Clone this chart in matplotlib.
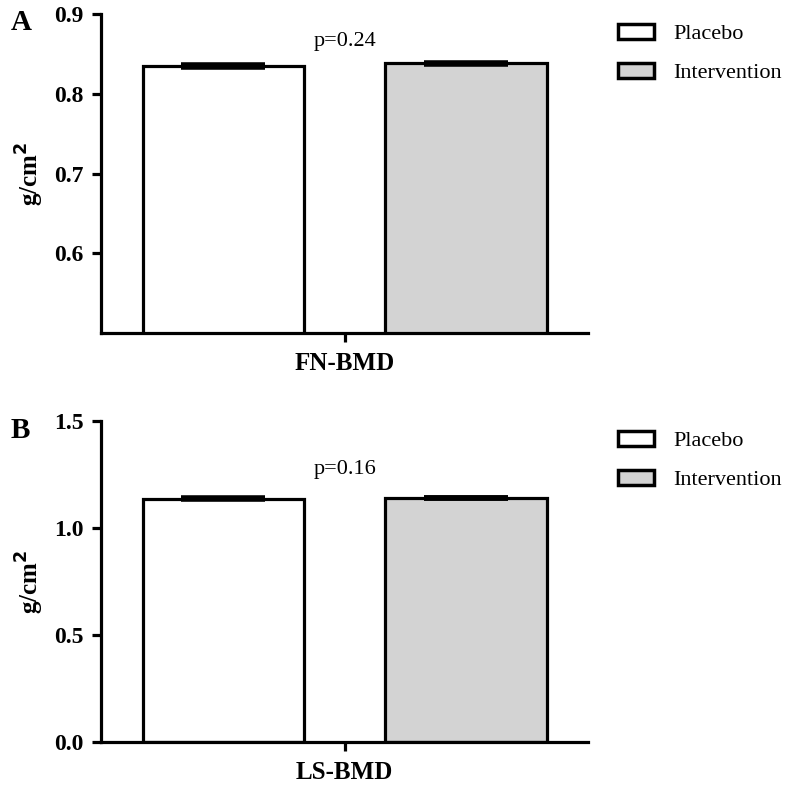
import matplotlib
matplotlib.use("Agg")
import matplotlib.pyplot as plt
from matplotlib.patches import Patch

plt.rcParams['font.family'] = ['Liberation Serif', 'DejaVu Serif']

groups = ["Placebo", "Intervention"]
colors = ["white", "#d3d3d3"]

fn_means = [0.835, 0.838]
fn_err = [0.001, 0.001]
ls_means = [1.136, 1.140]
ls_err = [0.002, 0.002]

panels = [
    dict(letter="A", cat="FN-BMD", means=fn_means, err=fn_err, p="p=0.24",
         ylim=(0.5, 0.9), yticks=[0.6, 0.7, 0.8, 0.9], fmt="{:.1f}", py=0.866),
    dict(letter="B", cat="LS-BMD", means=ls_means, err=ls_err, p="p=0.16",
         ylim=(0.0, 1.5), yticks=[0.0, 0.5, 1.0, 1.5], fmt="{:.1f}", py=1.275),
]

fig = plt.figure(figsize=(7.86, 7.92), dpi=100)
W, H = 786, 792
rects = [(101, 14, 588, 333), (101, 421, 588, 742)]
lw = 2.3
for (x0, y0, x1, y1), pn in zip(rects, panels):
    ax = fig.add_axes([x0 / W, 1 - y1 / H, (x1 - x0) / W, (y1 - y0) / H])
    xs = [0, 1]
    ax.bar(xs, pn["means"], width=0.664, color=colors, edgecolor="black",
           linewidth=lw, zorder=2)
    ax.errorbar(xs, pn["means"], yerr=pn["err"], fmt="none", ecolor="black",
                elinewidth=2, capsize=30, capthick=4, zorder=3)
    ax.set_xlim(-0.505, 1.503)
    ax.set_ylim(*pn["ylim"])
    ax.set_yticks(pn["yticks"])
    ax.set_yticklabels([pn["fmt"].format(v) for v in pn["yticks"]],
                       fontsize=17, fontweight="bold")
    ax.set_xticks([0.5])
    ax.set_xticklabels([pn["cat"]], fontsize=18, fontweight="bold")
    for s in ["top", "right"]:
        ax.spines[s].set_visible(False)
    for s in ["left", "bottom"]:
        ax.spines[s].set_linewidth(lw)
    ax.tick_params(axis="both", width=lw, length=6.5, direction="out")
    ax.tick_params(axis="x", pad=7)
    ax.tick_params(axis="y", pad=6)
    ax.set_ylabel("g/cm$^\\mathbf{2}$", fontsize=18, fontweight="bold", labelpad=6)
    ax.text(0.5, pn["py"], pn["p"], ha="center", va="center", fontsize=16,
            transform=ax.transData)
    fig.text(11 / W, 1 - (y0 + 9) / H, pn["letter"], fontsize=21,
             fontweight="bold", ha="left", va="center")
    handles = [Patch(facecolor=c, edgecolor="black", linewidth=2.5) for c in colors]
    ax.legend(handles, groups, loc="upper left",
              bbox_to_anchor=((618 - x0) / (x1 - x0), 1.0 - (24 - 14) / (y1 - y0)),
              frameon=False, fontsize=16, handlelength=1.6, handleheight=0.65,
              handletextpad=0.9, labelspacing=0.85, borderaxespad=0, borderpad=0)

fig.savefig("out.png", dpi=100)
